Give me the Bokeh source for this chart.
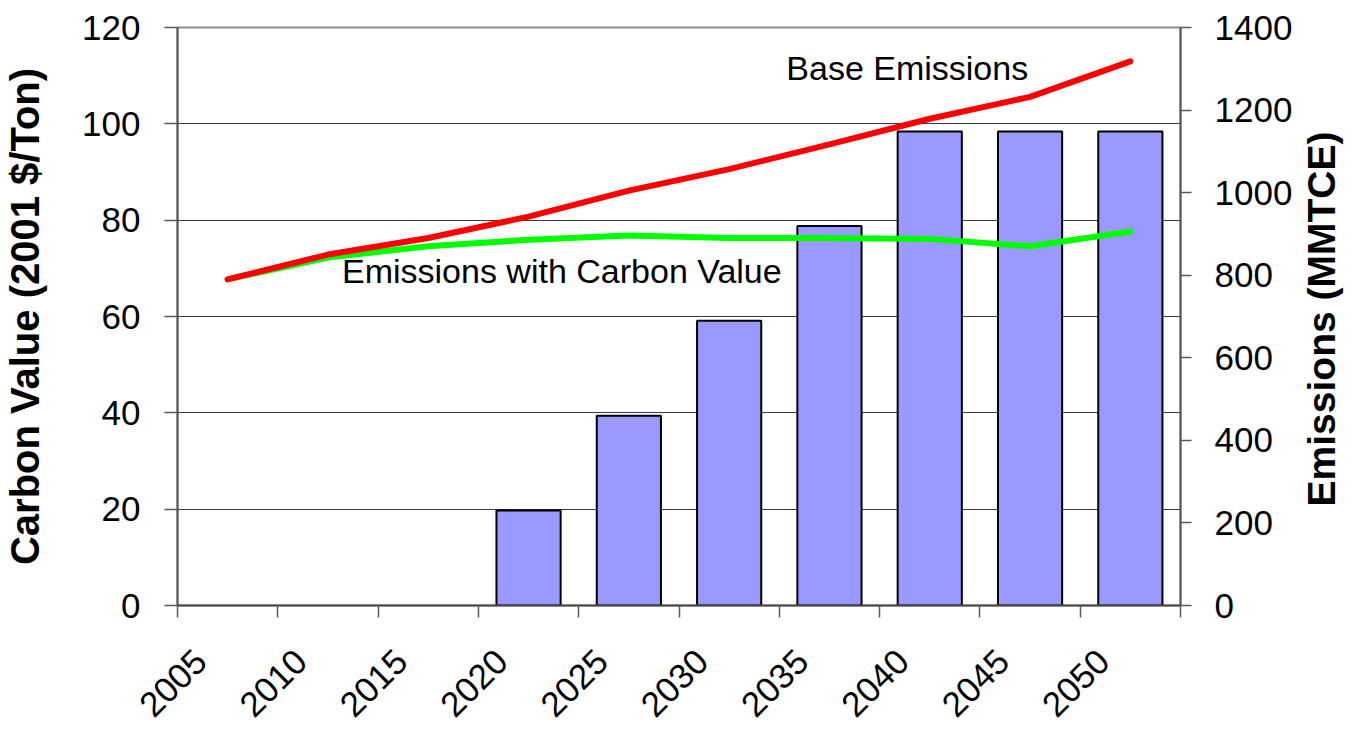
import math
from bokeh.plotting import figure
from bokeh.models import (Range1d, LinearAxis, FixedTicker, CustomJSTickFormatter,
                          Label, ColumnDataSource, CDSView, BooleanFilter)
from bokeh.embed import file_html
from bokeh.resources import INLINE

# ---------------- data ----------------
years = ["2005", "2010", "2015", "2020", "2025", "2030", "2035", "2040", "2045", "2050"]
carbon_value = [0, 0, 0, 19.7, 39.4, 59.1, 78.8, 98.4, 98.4, 98.4]          # 2001 $/Ton (bars, left axis)
base_emissions = [790, 850, 890, 942, 1005, 1057, 1117, 1179, 1232, 1318]    # MMTCE (right axis)
emissions_with_carbon_value = [790, 843, 870, 886, 896, 890, 890, 888, 870, 906]  # MMTCE (right axis)
left_ticks = [0, 20, 40, 60, 80, 100, 120]
right_ticks = [0, 200, 400, 600, 800, 1000, 1200, 1400]
left_title = "Carbon Value (2001 $/Ton)"
right_title = "Emissions (MMTCE)"

FONT = "Liberation Sans"
W, H = 1367, 730
FL, FR, FT, FB = 175, 1180, 27, 605   # frame edges inside the figure

n = len(years)
centers = [i + 0.5 for i in range(n)]

p = figure(width=W, height=H, output_backend="svg", toolbar_location=None,
           x_range=Range1d(0, n), y_range=Range1d(left_ticks[0], left_ticks[-1]),
           min_border_left=FL, min_border_right=W - FR,
           min_border_top=FT, min_border_bottom=H - FB,
           background_fill_color="white", border_fill_color="white")
p.extra_y_ranges = {"emis": Range1d(right_ticks[0], right_ticks[-1])}
p.outline_line_color = "#8a8a8a"
p.outline_line_width = 2

# grid
p.xgrid.visible = False
p.ygrid.ticker = FixedTicker(ticks=left_ticks)
p.ygrid.grid_line_color = "#3a3a3a"
p.ygrid.grid_line_width = 1

# left axis
ya = p.yaxis[0]
ya.ticker = FixedTicker(ticks=left_ticks)
ya.axis_line_color = "#5a5a5a"
ya.axis_line_width = 2
ya.major_tick_line_color = "#5a5a5a"
ya.major_tick_line_width = 1.5
ya.major_tick_out = 13
ya.major_tick_in = 0
ya.minor_tick_line_color = None
ya.major_label_standoff = 24
ya.major_label_text_font = FONT
ya.major_label_text_font_size = "35px"
ya.major_label_text_color = "black"
ya.axis_label = left_title
ya.axis_label_text_font = FONT
ya.axis_label_text_font_size = "40px"
ya.axis_label_text_font_style = "bold"
ya.axis_label_text_color = "black"
ya.axis_label_standoff = 32

# right axis
ra = LinearAxis(y_range_name="emis", ticker=FixedTicker(ticks=right_ticks))
ra.axis_line_color = "#5a5a5a"
ra.axis_line_width = 2
ra.major_tick_line_color = "#5a5a5a"
ra.major_tick_line_width = 1.5
ra.major_tick_out = 11
ra.major_tick_in = 0
ra.minor_tick_line_color = None
ra.major_label_standoff = 23
ra.major_label_text_font = FONT
ra.major_label_text_font_size = "35px"
ra.major_label_text_color = "black"
p.add_layout(ra, "right")

# right-hand title, reading bottom-to-top, carried by an outer bare axis
title_start = 240   # where the title text begins on the emissions scale
ta = LinearAxis(y_range_name="emis", ticker=FixedTicker(ticks=[title_start]),
                formatter=CustomJSTickFormatter(args=dict(t=right_title), code="return t;"))
ta.axis_line_color = None
ta.major_tick_line_color = None
ta.minor_tick_line_color = None
ta.major_tick_out = 0
ta.major_tick_in = 0
ta.major_label_orientation = math.pi / 2
ta.major_label_standoff = 26
ta.major_label_text_font = FONT
ta.major_label_text_font_size = "39px"
ta.major_label_text_font_style = "bold"
ta.major_label_text_color = "black"
p.add_layout(ta, "right")

# bottom (category) axis: labels near category centres, tick marks at category boundaries
xa = p.xaxis[0]
xa.ticker = FixedTicker(ticks=[c - 0.27 for c in centers], minor_ticks=list(range(n + 1)))
xa.formatter = CustomJSTickFormatter(args=dict(labels=years),
                                     code="return labels[Math.floor(tick)];")
xa.major_label_orientation = math.pi / 4
xa.major_tick_out = 0
xa.major_tick_in = 0
xa.minor_tick_out = 12
xa.minor_tick_in = 0
xa.minor_tick_line_color = "#5a5a5a"
xa.minor_tick_line_width = 1.5
xa.axis_line_color = "#4a4a4a"
xa.axis_line_width = 2
xa.major_label_standoff = 38
xa.major_label_text_font = FONT
xa.major_label_text_font_size = "35px"
xa.major_label_text_color = "black"

# bars
src = ColumnDataSource(dict(x=centers, top=carbon_value))
view = CDSView(filter=BooleanFilter([v > 0 for v in carbon_value]))
p.vbar(x="x", top="top", bottom=0, width=0.64, source=src, view=view,
       fill_color="#9999FF", line_color="black", line_width=2)

# lines
p.line(centers, emissions_with_carbon_value, y_range_name="emis",
       line_color="#00FF00", line_width=6, line_cap="round", line_join="round")
p.line(centers, base_emissions, y_range_name="emis",
       line_color="#FF0000", line_width=6, line_cap="round", line_join="round")

# annotations
p.add_layout(Label(x=6.07, y=111.5, text="Base Emissions", text_font=FONT,
                   text_font_size="34px", text_color="black",
                   text_align="left", text_baseline="alphabetic"))
p.add_layout(Label(x=1.64, y=69.55, text="Emissions with Carbon Value", text_font=FONT,
                   text_font_size="34px", text_color="black",
                   text_align="left", text_baseline="alphabetic"))

open("out.html", "w").write(file_html(p, INLINE))
